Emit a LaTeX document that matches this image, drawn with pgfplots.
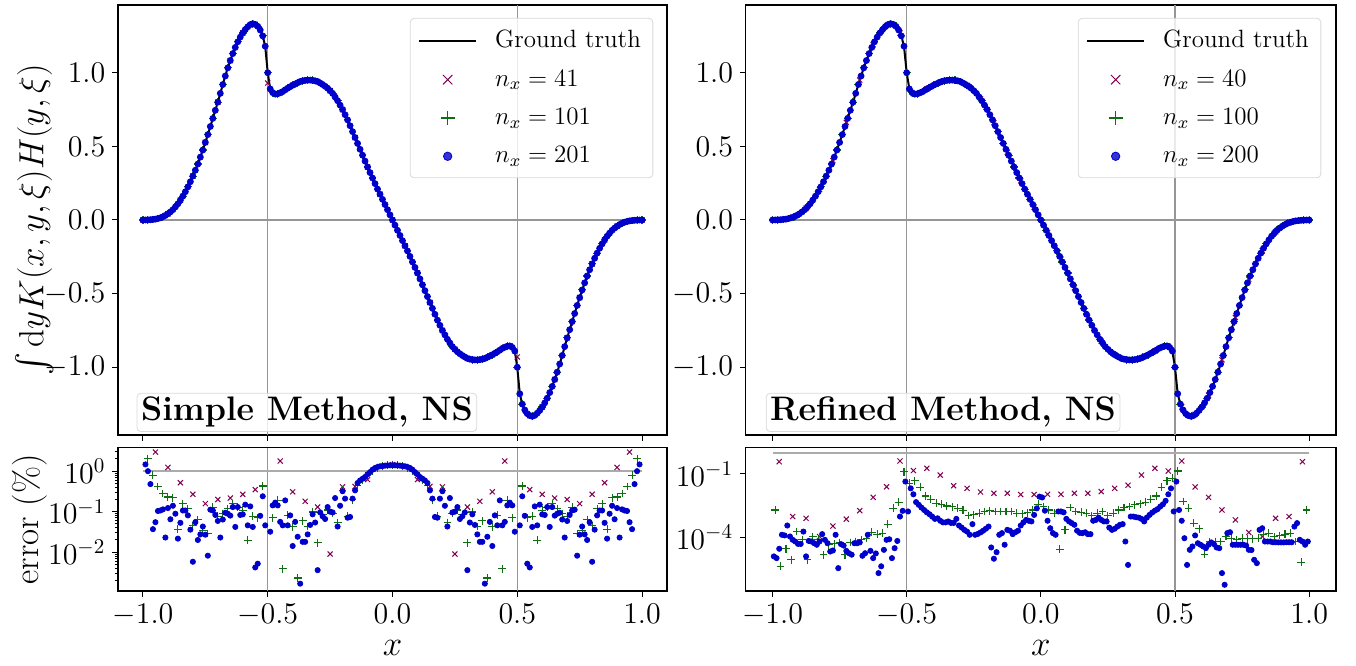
\RequirePackage{fix-cm}
\documentclass[border=0pt]{standalone}
\usepackage{amsmath}
\usepackage{exscale}
\usepackage{pgfplots}
\pgfplotsset{compat=1.18}
\usepackage{pgfplotstable}
\definecolor{cpur}{RGB}{128,0,80}
\definecolor{cgrn}{RGB}{15,110,15}
\definecolor{cblu}{RGB}{0,0,205}
\definecolor{refl}{RGB}{150,150,150}
\newcommand{\tfont}{\fontsize{15}{18}\selectfont}
\newcommand{\lfont}{\fontsize{17.5}{21}\selectfont}
\newcommand{\gfont}{\fontsize{12.5}{15}\selectfont}
\newcommand{\bfont}{\fontsize{17}{20}\selectfont\bfseries}

\pgfplotstableread{
x y
-1.00 0
-0.99 0.0003
-0.98 0.001
-0.97 0.002
-0.96 0.004
-0.95 0.006
-0.94 0.01
-0.93 0.015
-0.92 0.022
-0.91 0.031
-0.90 0.042
-0.89 0.055
-0.88 0.07
-0.87 0.089
-0.86 0.11
-0.85 0.135
-0.84 0.162
-0.83 0.192
-0.82 0.225
-0.81 0.26
-0.80 0.298
-0.79 0.338
-0.78 0.38
-0.77 0.427
-0.76 0.475
-0.75 0.527
-0.74 0.58
-0.73 0.635
-0.72 0.69
-0.71 0.745
-0.70 0.80
-0.69 0.86
-0.68 0.92
-0.67 0.978
-0.66 1.033
-0.65 1.083
-0.64 1.13
-0.63 1.172
-0.62 1.21
-0.61 1.242
-0.60 1.27
-0.59 1.293
-0.58 1.312
-0.57 1.327
-0.56 1.333
-0.55 1.328
-0.54 1.315
-0.53 1.29
-0.52 1.25
-0.51 1.18
-0.50 1.0
-0.49 0.89
-0.48 0.865
-0.47 0.855
-0.46 0.857
-0.45 0.864
-0.44 0.872
-0.43 0.884
-0.42 0.895
-0.41 0.905
-0.40 0.915
-0.39 0.924
-0.38 0.932
-0.37 0.94
-0.36 0.945
-0.35 0.948
-0.34 0.95
-0.33 0.95
-0.32 0.948
-0.31 0.945
-0.30 0.94
-0.29 0.93
-0.28 0.92
-0.27 0.908
-0.26 0.895
-0.25 0.878
-0.24 0.86
-0.23 0.835
-0.22 0.81
-0.21 0.78
-0.20 0.75
-0.19 0.715
-0.18 0.68
-0.17 0.64
-0.16 0.60
-0.15 0.56
-0.14 0.52
-0.13 0.48
-0.12 0.44
-0.11 0.40
-0.10 0.36
-0.09 0.322
-0.08 0.285
-0.07 0.247
-0.06 0.21
-0.05 0.175
-0.04 0.14
-0.03 0.105
-0.02 0.07
-0.01 0.035
0.00 0
0.01 -0.035
0.02 -0.07
0.03 -0.105
0.04 -0.14
0.05 -0.175
0.06 -0.21
0.07 -0.247
0.08 -0.285
0.09 -0.322
0.10 -0.36
0.11 -0.40
0.12 -0.44
0.13 -0.48
0.14 -0.52
0.15 -0.56
0.16 -0.60
0.17 -0.64
0.18 -0.68
0.19 -0.715
0.20 -0.75
0.21 -0.78
0.22 -0.81
0.23 -0.835
0.24 -0.86
0.25 -0.878
0.26 -0.895
0.27 -0.908
0.28 -0.92
0.29 -0.93
0.30 -0.94
0.31 -0.945
0.32 -0.948
0.33 -0.95
0.34 -0.95
0.35 -0.948
0.36 -0.945
0.37 -0.94
0.38 -0.932
0.39 -0.924
0.40 -0.915
0.41 -0.905
0.42 -0.895
0.43 -0.884
0.44 -0.872
0.45 -0.864
0.46 -0.857
0.47 -0.855
0.48 -0.865
0.49 -0.89
0.50 -1.0
0.51 -1.18
0.52 -1.25
0.53 -1.29
0.54 -1.315
0.55 -1.328
0.56 -1.333
0.57 -1.327
0.58 -1.312
0.59 -1.293
0.60 -1.27
0.61 -1.242
0.62 -1.21
0.63 -1.172
0.64 -1.13
0.65 -1.083
0.66 -1.033
0.67 -0.978
0.68 -0.92
0.69 -0.86
0.70 -0.80
0.71 -0.745
0.72 -0.69
0.73 -0.635
0.74 -0.58
0.75 -0.527
0.76 -0.475
0.77 -0.427
0.78 -0.38
0.79 -0.338
0.80 -0.298
0.81 -0.26
0.82 -0.225
0.83 -0.192
0.84 -0.162
0.85 -0.135
0.86 -0.11
0.87 -0.089
0.88 -0.07
0.89 -0.055
0.90 -0.042
0.91 -0.031
0.92 -0.022
0.93 -0.015
0.94 -0.01
0.95 -0.006
0.96 -0.004
0.97 -0.002
0.98 -0.001
0.99 -0.0003
1.00 0
}\curve

\pgfplotstableread{
x y
-1.00 0
-0.95 0.006
-0.90 0.042
-0.85 0.135
-0.80 0.298
-0.75 0.527
-0.70 0.80
-0.65 1.083
-0.60 1.27
-0.55 1.328
-0.50 0.93
-0.45 0.864
-0.40 0.915
-0.35 0.948
-0.30 0.94
-0.25 0.878
-0.20 0.75
-0.15 0.56
-0.10 0.36
-0.05 0.175
0.00 0
0.05 -0.175
0.10 -0.36
0.15 -0.56
0.20 -0.75
0.25 -0.878
0.30 -0.94
0.35 -0.948
0.40 -0.915
0.45 -0.864
0.50 -0.93
0.55 -1.328
0.60 -1.27
0.65 -1.083
0.70 -0.80
0.75 -0.527
0.80 -0.298
0.85 -0.135
0.90 -0.042
0.95 -0.006
1.00 0
}\curveA

\pgfplotstableread{
x y
-0.975 0.0015
-0.925 0.018
-0.875 0.08
-0.825 0.208
-0.775 0.403
-0.725 0.662
-0.675 0.95
-0.625 1.19
-0.575 1.32
-0.525 1.27
-0.475 0.858
-0.425 0.89
-0.375 0.936
-0.325 0.949
-0.275 0.914
-0.225 0.823
-0.175 0.66
-0.125 0.46
-0.075 0.266
-0.025 0.0875
0.025 -0.0875
0.075 -0.266
0.125 -0.46
0.175 -0.66
0.225 -0.823
0.275 -0.914
0.325 -0.949
0.375 -0.936
0.425 -0.89
0.475 -0.858
0.525 -1.27
0.575 -1.32
0.625 -1.19
0.675 -0.95
0.725 -0.662
0.775 -0.403
0.825 -0.208
0.875 -0.08
0.925 -0.018
0.975 -0.0015
}\curveB

\pgfplotsset{
  every axis/.append style={
    scale only axis, anchor=south west,
    axis line style={line width=0.6pt},
    tick align=outside, tick pos=left,
    major tick length=2.8pt, minor tick length=1.6pt,
    every tick/.style={black, line width=0.5pt},
    tick label style={font=\tfont},
    label style={font=\lfont},
    xmin=-1.1, xmax=1.1,
    xtick={-1,-0.5,0,0.5,1},
    xticklabel style={/pgf/number format/.cd,fixed,fixed zerofill,precision=1},
  },
  topax/.style={height=215pt, ymin=-1.46, ymax=1.46, xticklabels={},
    ytick={-1,-0.5,0,0.5,1},
    yticklabel style={/pgf/number format/.cd,fixed,fixed zerofill,precision=1},
    legend style={at={(rel axis cs:0.975,0.97)}, anchor=north east,
      draw=black!15, rounded corners=2pt, fill=white, fill opacity=0.8,
      text opacity=1, draw opacity=1, font=\gfont, row sep=5.6pt,
      inner xsep=4pt, inner ysep=4pt,
      /tikz/every odd column/.append style={column sep=7pt}},
    legend cell align=left},
  botax/.style={height=71.65pt,
    xlabel={$x$}, xlabel style={at={(rel axis cs:0.5,-0.40)}, anchor=center}},
  mx/.style={only marks, mark=x, mark size=1.8pt, draw=cpur, mark options={line width=0.5pt},
    legend image code/.code={\draw[only marks,mark repeat=2,mark phase=2,##1,mark options={scale=1.85,line width=0.5pt,draw=cpur}] plot coordinates {(0pt,0pt) (14.25pt,0pt) (28.5pt,0pt)};}},
  mp/.style={only marks, mark=+, mark size=1.95pt, draw=cgrn, mark options={line width=0.55pt},
    legend image code/.code={\draw[only marks,mark repeat=2,mark phase=2,##1,mark options={scale=1.8,line width=0.55pt,draw=cgrn}] plot coordinates {(0pt,0pt) (14.25pt,0pt) (28.5pt,0pt)};}},
  md/.style={only marks, mark=*, mark size=1.3pt, draw=cblu, fill=cblu,
    legend image code/.code={\draw[only marks,mark repeat=2,mark phase=2,##1,mark options={scale=1.4}] plot coordinates {(0pt,0pt) (14.25pt,0pt) (28.5pt,0pt)};}},
  gt/.style={black, line width=1pt, no marks,
    legend image code/.code={\draw[black, line width=1pt] (0pt,0pt) -- (28.5pt,0pt);}},
  rl/.style={refl, line width=0.6pt, forget plot},
  rlb/.style={refl!80, line width=1.2pt, forget plot},
}

\begin{document}
\begin{tikzpicture}
\path[use as bounding box] (0,0) rectangle (678pt,332.5pt);

% ---------------- top left ----------------
\begin{axis}[topax, at={(59pt,115pt)}, width=274.5pt,
  ylabel={$\int \mathrm{d}y K(x,y,\xi) H(y,\xi)$},
  ylabel style={at={(rel axis cs:-0.152,0.5)}, anchor=center, inner sep=0pt},
  legend entries={Ground truth,$n_x = 41$,$n_x = 101$,$n_x = 201$}]
\addplot[rl] coordinates {(-0.5,-1.46) (-0.5,1.46)};
\addplot[rl] coordinates {(0.5,-1.46) (0.5,1.46)};
\addplot[rl] coordinates {(-1,0) (1,0)};
\addplot[gt] table {\curve};
\addplot[mx] table {\curveA};
\addplot[mp, each nth point=2] table {\curve};
\addplot[md, mark size=1.5pt] table {\curve};
\node[anchor=south west, fill=white, fill opacity=0.8, text opacity=1, draw=black!15,
  rounded corners=2pt, inner sep=2pt, font=\bfont] at (rel axis cs:0.034,0.007) {Simple Method, NS};
\end{axis}

% ---------------- top right ----------------
\begin{axis}[topax, at={(372.85pt,115pt)}, width=295.15pt,
  legend entries={Ground truth,$n_x = 40$,$n_x = 100$,$n_x = 200$}]
\addplot[rl] coordinates {(-0.5,-1.46) (-0.5,1.46)};
\addplot[rl] coordinates {(0.5,-1.46) (0.5,1.46)};
\addplot[rl] coordinates {(-1,0) (1,0)};
\addplot[gt] table {\curve};
\addplot[mx] table {\curveB};
\addplot[mp, each nth point=2] table {\curve};
\addplot[md, mark size=1.5pt] table {\curve};
\node[anchor=south west, fill=white, fill opacity=0.8, text opacity=1, draw=black!15,
  rounded corners=2pt, inner sep=2pt, font=\bfont] at (rel axis cs:0.034,0.007) {Refined Method, NS};
\end{axis}

% ---------------- bottom left ----------------
\begin{semilogyaxis}[botax, at={(59pt,37pt)}, width=274.5pt,
  ymin=1.1e-3, ymax=3.8, ytick={1e-2,1e-1,1},
  minor ytick={2e-3,3e-3,4e-3,5e-3,6e-3,7e-3,8e-3,9e-3,2e-2,3e-2,4e-2,5e-2,6e-2,7e-2,8e-2,9e-2,0.2,0.3,0.4,0.5,0.6,0.7,0.8,0.9,2,3},
  ylabel={error (\%)},
  ylabel style={at={(rel axis cs:-0.16,0.5)}, anchor=center}]
\addplot[rl] coordinates {(-0.5,1.1e-3) (-0.5,3.8)};
\addplot[rl] coordinates {(0.5,1.1e-3) (0.5,3.8)};
\addplot[rlb] coordinates {(-1,1) (1,1)};
\addplot[mx] coordinates {(-0.95,2.97)(-0.90,1.24)(-0.85,0.52)(-0.80,0.27)(-0.75,0.158)(-0.70,0.20)(-0.65,0.217)(-0.60,0.268)(-0.55,0.35)(-0.45,1.78)(-0.40,0.31)(-0.35,0.18)(-0.30,0.13)(-0.25,0.009)(-0.20,0.41)(-0.15,0.42)(-0.10,0.62)(-0.05,1.3)(0,1.45)(0.05,1.3)(0.10,0.62)(0.15,0.42)(0.20,0.41)(0.25,0.009)(0.30,0.13)(0.35,0.18)(0.40,0.31)(0.45,1.78)(0.55,0.35)(0.60,0.268)(0.65,0.217)(0.70,0.20)(0.75,0.158)(0.80,0.27)(0.85,0.52)(0.90,1.24)(0.95,2.97)};
\addplot[mp] coordinates {(-0.98,2.04)(-0.96,0.79)(-0.94,0.42)(-0.92,0.28)(-0.90,0.23)(-0.88,0.22)(-0.86,0.037)(-0.84,0.158)(-0.82,0.119)(-0.80,0.045)(-0.78,0.063)(-0.76,0.035)(-0.74,0.029)(-0.72,0.13)(-0.70,0.077)(-0.68,0.09)(-0.66,0.12)(-0.64,0.158)(-0.62,0.13)(-0.60,0.108)(-0.58,0.0196)(-0.56,0.077)(-0.54,0.071)(-0.52,0.43)(-0.48,0.071)(-0.46,0.19)(-0.44,0.0039)(-0.42,0.081)(-0.40,0.042)(-0.38,0.0023)(-0.36,0.06)(-0.34,0.043)(-0.32,0.098)(-0.30,0.017)(-0.28,0.085)(-0.26,0.11)(-0.24,0.09)(-0.22,0.054)(-0.20,0.34)(-0.18,0.077)(-0.16,0.198)(-0.14,0.45)(-0.12,0.6)(-0.10,0.8)(-0.08,1.0)(-0.06,1.2)(-0.04,1.35)(-0.02,1.42)(0,1.45)
(0.02,1.42)(0.04,1.35)(0.06,1.2)(0.08,1.0)(0.10,0.8)(0.12,0.6)(0.14,0.45)(0.16,0.198)(0.18,0.077)(0.20,0.34)(0.22,0.054)(0.24,0.09)(0.26,0.11)(0.28,0.085)(0.30,0.017)(0.32,0.098)(0.34,0.043)(0.36,0.06)(0.38,0.0023)(0.40,0.042)(0.42,0.081)(0.44,0.0039)(0.46,0.19)(0.48,0.071)(0.52,0.43)(0.54,0.071)(0.56,0.077)(0.58,0.0196)(0.60,0.108)(0.62,0.13)(0.64,0.158)(0.66,0.12)(0.68,0.09)(0.70,0.077)(0.72,0.13)(0.74,0.029)(0.76,0.035)(0.78,0.063)(0.80,0.045)(0.82,0.119)(0.84,0.158)(0.86,0.037)(0.88,0.22)(0.90,0.23)(0.92,0.28)(0.94,0.42)(0.96,0.79)(0.98,2.04)};
\addplot[md] coordinates {(-0.99,1.47)(-0.98,1.0)(-0.97,0.48)(-0.96,0.037)(-0.95,0.055)(-0.94,0.104)(-0.93,0.107)(-0.92,0.114)(-0.91,0.023)(-0.90,0.123)(-0.89,0.065)(-0.88,0.14)(-0.87,0.089)(-0.86,0.0216)(-0.85,0.053)(-0.84,0.107)(-0.83,0.107)(-0.82,0.081)(-0.81,0.036)(-0.80,0.0058)(-0.79,0.055)(-0.78,0.02)(-0.77,0.0275)(-0.76,0.043)(-0.75,0.027)(-0.74,0.0082)(-0.73,0.112)(-0.72,0.107)(-0.71,0.083)(-0.70,0.059)(-0.69,0.023)(-0.68,0.064)(-0.67,0.094)(-0.66,0.089)(-0.65,0.08)(-0.64,0.13)(-0.63,0.042)(-0.62,0.13)(-0.61,0.083)(-0.60,0.086)(-0.59,0.149)(-0.58,0.046)(-0.57,0.135)(-0.56,0.042)(-0.55,0.0042)(-0.54,0.0052)(-0.53,0.079)(-0.52,0.24)(-0.51,0.046)(-0.49,0.032)(-0.48,0.143)(-0.47,0.167)(-0.46,0.143)(-0.45,0.056)(-0.44,0.046)(-0.43,0.19)(-0.42,0.046)(-0.41,0.081)(-0.40,0.0142)(-0.39,0.056)(-0.38,0.024)(-0.37,0.00167)(-0.36,0.018)(-0.35,0.018)(-0.34,0.0275)(-0.33,0.047)(-0.32,0.086)(-0.31,0.054)(-0.30,0.0036)(-0.29,0.096)(-0.28,0.077)(-0.27,0.066)(-0.26,0.13)(-0.25,0.1)(-0.24,0.096)(-0.23,0.217)(-0.22,0.043)(-0.21,0.14)(-0.20,0.32)(-0.19,0.21)(-0.18,0.071)(-0.17,0.074)(-0.16,0.21)(-0.15,0.336)(-0.14,0.51)(-0.13,0.59)(-0.12,0.65)(-0.11,0.72)(-0.10,0.84)(-0.09,0.95)(-0.08,1.09)(-0.07,1.2)(-0.06,1.27)(-0.05,1.32)(-0.04,1.34)(-0.03,1.37)(-0.02,1.39)(-0.01,1.39)(0,1.4)
(0.01,1.39)(0.02,1.39)(0.03,1.37)(0.04,1.34)(0.05,1.32)(0.06,1.27)(0.07,1.2)(0.08,1.09)(0.09,0.95)(0.10,0.84)(0.11,0.72)(0.12,0.65)(0.13,0.59)(0.14,0.51)(0.15,0.336)(0.16,0.21)(0.17,0.074)(0.18,0.071)(0.19,0.21)(0.20,0.32)(0.21,0.14)(0.22,0.043)(0.23,0.217)(0.24,0.096)(0.25,0.1)(0.26,0.13)(0.27,0.066)(0.28,0.077)(0.29,0.096)(0.30,0.0036)(0.31,0.054)(0.32,0.086)(0.33,0.047)(0.34,0.0275)(0.35,0.018)(0.36,0.018)(0.37,0.00167)(0.38,0.024)(0.39,0.056)(0.40,0.0142)(0.41,0.081)(0.42,0.046)(0.43,0.19)(0.44,0.046)(0.45,0.056)(0.46,0.143)(0.47,0.167)(0.48,0.143)(0.49,0.032)(0.51,0.046)(0.52,0.24)(0.53,0.079)(0.54,0.0052)(0.55,0.0042)(0.56,0.042)(0.57,0.135)(0.58,0.046)(0.59,0.149)(0.60,0.086)(0.61,0.083)(0.62,0.13)(0.63,0.042)(0.64,0.13)(0.65,0.08)(0.66,0.089)(0.67,0.094)(0.68,0.064)(0.69,0.023)(0.70,0.059)(0.71,0.083)(0.72,0.107)(0.73,0.112)(0.74,0.0082)(0.75,0.027)(0.76,0.043)(0.77,0.0275)(0.78,0.02)(0.79,0.055)(0.80,0.0058)(0.81,0.036)(0.82,0.081)(0.83,0.107)(0.84,0.107)(0.85,0.053)(0.86,0.0216)(0.87,0.089)(0.88,0.14)(0.89,0.065)(0.90,0.123)(0.91,0.023)(0.92,0.114)(0.93,0.107)(0.94,0.104)(0.95,0.055)(0.96,0.037)(0.97,0.48)(0.98,1.0)(0.99,1.47)};
\end{semilogyaxis}

% ---------------- bottom right ----------------
\begin{semilogyaxis}[botax, at={(372.85pt,37pt)}, width=295.15pt,
  ymin=3e-7, ymax=1.74, ytick={1e-4,1e-1}]
\addplot[rl] coordinates {(-0.5,3e-7) (-0.5,1.74)};
\addplot[rl] coordinates {(0.5,3e-7) (0.5,1.74)};
\addplot[rlb] coordinates {(-1,1) (1,1)};
\addplot[mx] coordinates {(-0.975,0.38)(-0.925,9.8e-4)(-0.875,8.1e-4)(-0.825,1.12e-4)(-0.775,3.47e-4)(-0.725,7.4e-4)(-0.675,1.86e-3)(-0.625,7.9e-3)(-0.575,2.5e-2)(-0.525,0.41)(-0.475,0.145)(-0.425,0.186)(-0.375,8.9e-2)(-0.325,2.8e-2)(-0.275,2.1e-2)(-0.225,1.41e-2)(-0.175,1.23e-2)(-0.125,1.23e-2)(-0.075,1.07e-2)(-0.025,1.07e-2)(0.025,1.1e-2)(0.075,1.1e-2)(0.125,1.23e-2)(0.175,1.23e-2)(0.225,1.48e-2)(0.275,2.1e-2)(0.325,2.95e-2)(0.375,8.9e-2)(0.425,0.186)(0.475,0.138)(0.525,0.41)(0.575,2.45e-2)(0.625,7.9e-3)(0.675,2.0e-3)(0.725,6.8e-4)(0.775,1.74e-4)(0.825,1.12e-4)(0.875,8.1e-4)(0.925,9.8e-4)(0.975,0.38)};
\addplot[mp] coordinates {(-0.99,2.0e-3)(-0.97,4.4e-6)(-0.95,2.95e-5)(-0.93,8.9e-6)(-0.91,1.91e-4)(-0.89,7.8e-5)(-0.87,8.9e-6)(-0.85,1.12e-4)(-0.83,7.8e-5)(-0.81,1.55e-5)(-0.79,4.57e-5)(-0.77,5.0e-5)(-0.75,5.9e-5)(-0.73,1.55e-5)(-0.71,5.9e-5)(-0.69,6.5e-5)(-0.67,7.8e-5)(-0.65,9.3e-5)(-0.63,1.78e-4)(-0.61,1.45e-4)(-0.59,1.62e-4)(-0.57,4.3e-4)(-0.55,2.4e-3)(-0.53,4.7e-3)(-0.51,0.129)(-0.49,3.6e-2)(-0.47,4.7e-2)(-0.45,2.35e-2)(-0.43,9.1e-3)(-0.41,6.5e-3)(-0.39,4.2e-3)(-0.37,3.7e-3)(-0.35,3.1e-3)(-0.33,2.8e-3)(-0.31,2.4e-3)(-0.29,1.95e-3)(-0.27,1.1e-3)(-0.25,1.17e-3)(-0.23,1.41e-3)(-0.21,1.7e-3)(-0.19,1.82e-3)(-0.17,1.7e-3)(-0.15,1.7e-3)(-0.13,1.7e-3)(-0.11,1.7e-3)(-0.09,1.41e-3)(-0.07,1.32e-3)(-0.05,1.45e-3)(-0.03,2.0e-3)(-0.01,3.7e-3)
(0.01,2.9e-3)(0.03,2.0e-3)(0.05,1.41e-3)(0.07,2.8e-5)(0.09,2.3e-4)(0.11,2.6e-3)(0.13,1.7e-3)(0.15,1.58e-3)(0.17,1.41e-3)(0.19,1.1e-3)(0.21,1.41e-3)(0.23,1.7e-3)(0.25,1.1e-3)(0.27,1.41e-3)(0.29,2.0e-3)(0.31,2.6e-3)(0.33,2.9e-3)(0.35,3.5e-3)(0.37,3.9e-3)(0.39,4.7e-3)(0.41,6.5e-3)(0.43,9.1e-3)(0.45,2.35e-2)(0.47,4.7e-2)(0.49,6.3e-2)(0.51,0.138)(0.53,5.0e-3)(0.55,2.4e-3)(0.57,4.8e-4)(0.59,2.6e-4)(0.61,1.66e-5)(0.63,6.5e-5)(0.65,6.5e-5)(0.67,6.5e-5)(0.69,1.12e-4)(0.71,9.3e-5)(0.73,7.8e-5)(0.75,9.3e-5)(0.77,8.7e-5)(0.79,8.7e-5)(0.81,9.3e-5)(0.83,1.35e-4)(0.85,1.62e-4)(0.87,1.12e-4)(0.89,1.26e-4)(0.91,1.45e-4)(0.93,1.62e-4)(0.95,6.5e-5)(0.97,6.9e-6)(0.99,2.0e-3)};
\addplot[md] coordinates {(-0.995,1.29e-5)(-0.985,1.07e-5)(-0.975,2.95e-5)(-0.965,1.35e-4)(-0.955,1.26e-4)(-0.945,3.7e-4)(-0.935,1.12e-4)(-0.925,7.8e-5)(-0.915,6.5e-5)(-0.905,5.0e-5)(-0.895,5.0e-5)(-0.885,1.91e-4)(-0.875,1.29e-5)(-0.865,6.9e-5)(-0.855,6.5e-5)(-0.845,5.4e-5)(-0.835,4.57e-5)(-0.825,6.5e-5)(-0.815,1.45e-4)(-0.805,7.8e-5)(-0.795,5.4e-5)(-0.785,2.19e-5)(-0.775,2.45e-5)(-0.765,1.35e-4)(-0.755,3.6e-6)(-0.745,4.9e-5)(-0.735,4.2e-5)(-0.725,2.35e-5)(-0.715,1.82e-5)(-0.705,1.55e-5)(-0.695,5.4e-5)(-0.685,5.4e-5)(-0.675,5.9e-5)(-0.665,1.38e-5)(-0.655,1.82e-5)(-0.645,1.35e-4)(-0.635,2.35e-5)(-0.625,1.07e-5)(-0.615,1.78e-5)(-0.605,2.1e-6)(-0.595,4.4e-6)(-0.585,2.63e-5)(-0.575,7.8e-5)(-0.565,8.3e-5)(-0.555,1.07e-5)(-0.545,3.16e-5)(-0.535,6.9e-5)(-0.525,9.8e-4)(-0.515,1.82e-3)(-0.505,4.4e-2)(-0.495,1.7e-3)(-0.485,2.1e-2)(-0.475,1.1e-2)(-0.465,4.7e-3)(-0.455,3.5e-3)(-0.445,2.6e-3)(-0.435,2.0e-3)(-0.425,1.55e-3)(-0.415,1.26e-3)(-0.405,9.8e-4)(-0.395,7.6e-4)(-0.385,8.1e-4)(-0.375,6.2e-4)(-0.365,5.2e-4)(-0.355,5.2e-4)(-0.345,5.75e-4)(-0.335,4.9e-4)(-0.325,4.9e-4)(-0.315,7.6e-4)(-0.305,3.7e-4)(-0.295,2.95e-4)(-0.285,2.3e-4)(-0.275,1.91e-4)(-0.265,1.35e-4)(-0.255,4.3e-4)(-0.245,1.35e-4)(-0.235,1.48e-4)(-0.225,1.74e-4)(-0.215,2.1e-4)(-0.205,2.6e-4)(-0.195,3.3e-4)(-0.185,3.4e-5)(-0.175,1.0e-5)(-0.165,2.04e-5)(-0.155,1.35e-4)(-0.145,1.62e-4)(-0.135,4.57e-5)(-0.125,2.3e-4)(-0.115,2.1e-4)(-0.105,1.45e-4)(-0.095,1.78e-4)(-0.085,2.1e-4)(-0.075,3.7e-4)(-0.065,5.2e-4)(-0.055,6.8e-4)(-0.045,6.2e-4)(-0.035,5.75e-4)(-0.025,1.17e-3)(-0.015,2.4e-3)(-0.005,8.5e-3)
(0.005,7.8e-3)(0.015,1.86e-3)(0.025,6.2e-4)(0.035,2.75e-4)(0.045,1.62e-4)(0.055,1.35e-4)(0.065,1.7e-3)(0.075,1.7e-3)(0.085,1.55e-3)(0.095,7.6e-4)(0.105,5.75e-4)(0.115,4.8e-4)(0.125,4.0e-4)(0.135,2.1e-4)(0.145,1.66e-4)(0.155,1.62e-4)(0.165,1.78e-4)(0.175,1.45e-4)(0.185,1.45e-4)(0.195,6.2e-4)(0.205,6.8e-4)(0.215,8.7e-4)(0.225,6.8e-4)(0.235,5.75e-4)(0.245,5.75e-4)(0.255,2.95e-4)(0.265,2.3e-4)(0.275,2.6e-4)(0.285,3.3e-4)(0.295,4.0e-4)(0.305,4.3e-4)(0.315,6.5e-5)(0.325,5.1e-6)(0.335,9.8e-4)(0.345,9.8e-4)(0.355,9.1e-4)(0.365,8.7e-4)(0.375,7.6e-4)(0.385,5.75e-4)(0.395,8.7e-4)(0.405,1.17e-3)(0.415,1.51e-3)(0.425,1.86e-3)(0.435,2.19e-3)(0.445,2.9e-3)(0.455,3.7e-3)(0.465,5.4e-3)(0.475,1.1e-2)(0.485,2.1e-2)(0.495,1.7e-3)(0.505,4.4e-2)(0.515,2.0e-3)(0.525,6.2e-4)(0.535,9.3e-5)(0.545,5.1e-6)(0.555,2.63e-5)(0.565,3.8e-5)(0.575,1.26e-4)(0.585,5.4e-5)(0.595,4.57e-5)(0.605,3.8e-5)(0.615,3.16e-5)(0.625,4.57e-5)(0.635,5.9e-5)(0.645,4.9e-5)(0.655,3.4e-5)(0.665,3.16e-5)(0.675,2.1e-6)(0.685,5.9e-7)(0.695,1.62e-4)(0.705,1.78e-4)(0.715,4.57e-5)(0.725,4.57e-5)(0.735,4.57e-5)(0.745,4.57e-5)(0.755,4.57e-5)(0.765,4.2e-5)(0.775,2.63e-5)(0.785,2.57e-5)(0.795,8.9e-6)(0.805,6.2e-6)(0.815,2.3e-4)(0.825,2.75e-4)(0.835,6.5e-5)(0.845,6.5e-5)(0.855,6.5e-5)(0.865,6.0e-5)(0.875,6.0e-5)(0.885,5.9e-5)(0.895,5.9e-5)(0.905,5.9e-5)(0.915,6.0e-5)(0.925,6.0e-5)(0.935,6.0e-5)(0.945,3.3e-4)(0.955,4.8e-4)(0.965,7.8e-5)(0.975,6.5e-5)(0.985,4.57e-5)(0.995,6.5e-5)};
\end{semilogyaxis}
\end{tikzpicture}
\end{document}
